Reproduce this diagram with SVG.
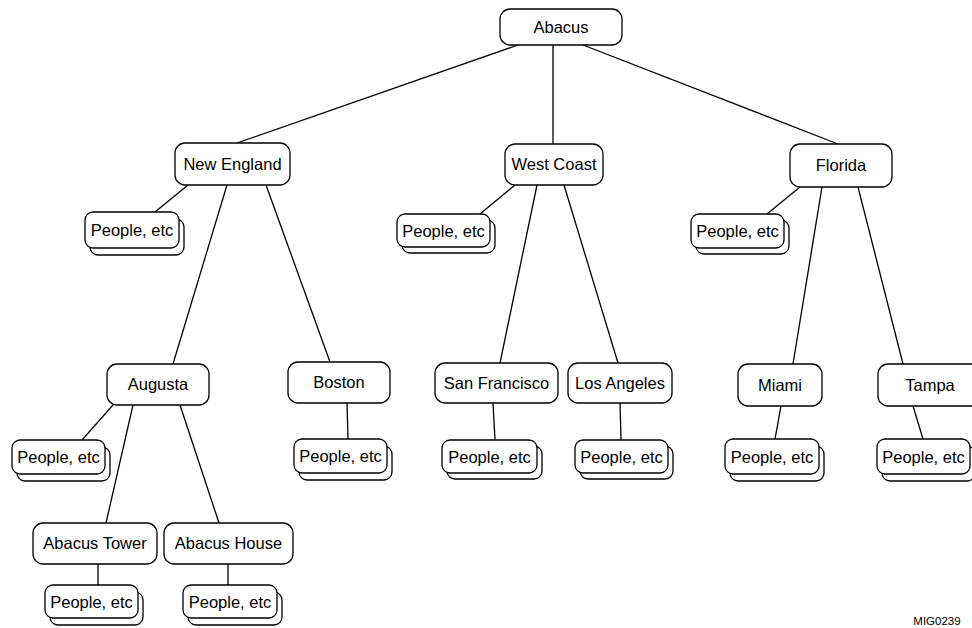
<svg xmlns="http://www.w3.org/2000/svg" width="972" height="628" viewBox="0 0 972 628">
<style>
.n{fill:#fff;stroke:#000;stroke-width:1.3}
.t{font-family:"Liberation Sans",Arial,sans-serif;font-size:16.5px;text-anchor:middle;fill:#000}
.c line{stroke:#000;stroke-width:1.3}
</style>
<rect width="972" height="628" fill="#fff"/>
<g class="c" id="connectors">
<line x1="518" y1="45" x2="237" y2="143"/>
<line x1="553" y1="45" x2="553" y2="144"/>
<line x1="583" y1="45" x2="838" y2="144"/>
<line x1="188" y1="185" x2="155" y2="212"/>
<line x1="227" y1="185" x2="173" y2="364"/>
<line x1="266" y1="185" x2="330" y2="362"/>
<line x1="515" y1="185" x2="480" y2="214"/>
<line x1="537" y1="185" x2="500" y2="363"/>
<line x1="564" y1="185" x2="618" y2="363"/>
<line x1="800" y1="187" x2="767" y2="214"/>
<line x1="822" y1="187" x2="793" y2="364"/>
<line x1="858" y1="187" x2="903" y2="364"/>
<line x1="113" y1="405" x2="82" y2="440"/>
<line x1="133" y1="405" x2="106" y2="523"/>
<line x1="180" y1="405" x2="219" y2="523"/>
<line x1="347" y1="403" x2="348" y2="439"/>
<line x1="493" y1="403" x2="495" y2="440"/>
<line x1="620" y1="403" x2="621" y2="440"/>
<line x1="781" y1="406" x2="775" y2="439"/>
<line x1="913" y1="406" x2="923" y2="439"/>
<line x1="98" y1="564" x2="98" y2="585"/>
<line x1="228" y1="564" x2="228" y2="585"/>
</g>
<g id="abacus"><rect class="n" x="500" y="9" width="122" height="36" rx="10"/><text class="t" x="561" y="33">Abacus</text></g>
<g id="new-england"><rect class="n" x="175" y="143" width="115" height="42" rx="10"/><text class="t" x="232.5" y="170">New England</text></g>
<g id="west-coast"><rect class="n" x="505" y="144" width="98" height="41" rx="10"/><text class="t" x="554" y="170">West Coast</text></g>
<g id="florida"><rect class="n" x="790" y="144" width="102" height="43" rx="10"/><text class="t" x="841" y="171">Florida</text></g>
<g id="augusta"><rect class="n" x="107" y="364" width="102" height="41" rx="10"/><text class="t" x="158" y="390">Augusta</text></g>
<g id="boston"><rect class="n" x="288" y="362" width="102" height="41" rx="10"/><text class="t" x="339" y="388">Boston</text></g>
<g id="san-francisco"><rect class="n" x="435" y="363" width="123" height="40" rx="10"/><text class="t" x="496.5" y="389">San Francisco</text></g>
<g id="los-angeles"><rect class="n" x="568" y="363" width="104" height="40" rx="10"/><text class="t" x="620" y="389">Los Angeles</text></g>
<g id="miami"><rect class="n" x="738" y="364" width="84" height="42" rx="10"/><text class="t" x="780" y="391">Miami</text></g>
<g id="tampa"><rect class="n" x="878" y="364" width="104" height="42" rx="10"/><text class="t" x="930" y="391">Tampa</text></g>
<g id="abacus-tower"><rect class="n" x="33" y="523" width="124" height="41" rx="10"/><text class="t" x="95" y="549">Abacus Tower</text></g>
<g id="abacus-house"><rect class="n" x="164" y="523" width="129" height="41" rx="10"/><text class="t" x="228.5" y="549">Abacus House</text></g>
<g id="people-ne"><rect class="n" x="90" y="219" width="94" height="36" rx="8"/><rect class="n" x="85" y="212" width="94" height="36" rx="8"/><text class="t" x="132" y="236">People, etc</text></g>
<g id="people-wc"><rect class="n" x="402" y="220" width="93" height="33" rx="8"/><rect class="n" x="397" y="214" width="93" height="33" rx="8"/><text class="t" x="443.5" y="236.5">People, etc</text></g>
<g id="people-fl"><rect class="n" x="696" y="220" width="93" height="34" rx="8"/><rect class="n" x="691" y="214" width="93" height="34" rx="8"/><text class="t" x="737.5" y="237">People, etc</text></g>
<g id="people-augusta"><rect class="n" x="17" y="447" width="93" height="34" rx="8"/><rect class="n" x="12" y="440" width="93" height="34" rx="8"/><text class="t" x="58.5" y="463">People, etc</text></g>
<g id="people-boston"><rect class="n" x="299" y="446" width="93" height="34" rx="8"/><rect class="n" x="294" y="439" width="93" height="34" rx="8"/><text class="t" x="340.5" y="462">People, etc</text></g>
<g id="people-sf"><rect class="n" x="447" y="446" width="95" height="33" rx="8"/><rect class="n" x="442" y="440" width="95" height="33" rx="8"/><text class="t" x="489.5" y="462.5">People, etc</text></g>
<g id="people-la"><rect class="n" x="580" y="446" width="93" height="33" rx="8"/><rect class="n" x="575" y="440" width="93" height="33" rx="8"/><text class="t" x="621.5" y="462.5">People, etc</text></g>
<g id="people-miami"><rect class="n" x="730" y="446" width="94" height="35" rx="8"/><rect class="n" x="725" y="439" width="94" height="35" rx="8"/><text class="t" x="772" y="462.5">People, etc</text></g>
<g id="people-tampa"><rect class="n" x="882" y="446" width="93" height="35" rx="8"/><rect class="n" x="877" y="439" width="93" height="35" rx="8"/><text class="t" x="923.5" y="462.5">People, etc</text></g>
<g id="people-tower"><rect class="n" x="50" y="592" width="93" height="33" rx="8"/><rect class="n" x="45" y="585" width="93" height="33" rx="8"/><text class="t" x="91.5" y="607.5">People, etc</text></g>
<g id="people-house"><rect class="n" x="188" y="592" width="94" height="33" rx="8"/><rect class="n" x="183" y="585" width="94" height="33" rx="8"/><text class="t" x="230" y="607.5">People, etc</text></g>
<text x="937" y="625" style="font-family:'Liberation Sans',Arial,sans-serif;font-size:11.5px;text-anchor:middle">MIG0239</text>
</svg>
